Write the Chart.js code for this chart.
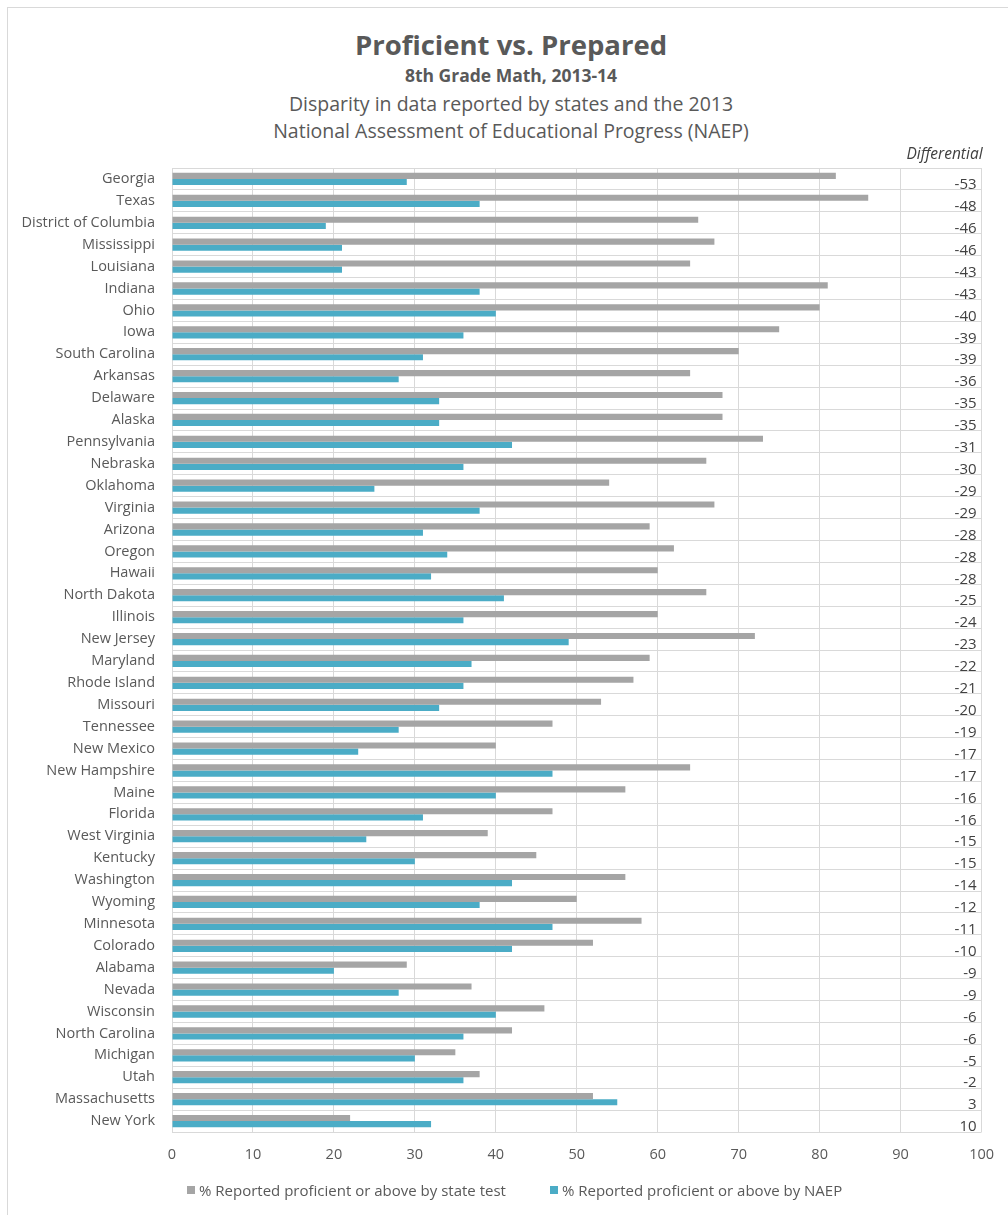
<!DOCTYPE html>
<html>
<head>
<meta charset="utf-8">
<title>Proficient vs. Prepared</title>
<script src="https://cdn.jsdelivr.net/npm/chart.js@4.4.1/dist/chart.umd.min.js"></script>
<style>
    html, body { margin: 0; padding: 0; background: #fff; overflow: hidden; }
    #wrap { position: relative; width: 1008px; height: 1215px; }
    #frame {
        position: absolute; left: 7px; top: 7px; width: 1010px; height: 1220px;
        border: 1px solid #d9d9d9; box-sizing: border-box;
    }
    .head {
        position: absolute; left: 7px; width: 1008px; text-align: center;
        color: #595959; font-family: 'Open Sans', sans-serif; white-space: nowrap;
    }
    #h1 { top: 27px; font-size: 27.5px; line-height: 36px; font-weight: 700; }
    #h2 { top: 63px; font-size: 17.5px; line-height: 24px; font-weight: 700; }
    #h3 { top: 89.5px; font-size: 19.5px; line-height: 27px; }
    #chart { position: absolute; left: 0; top: 0; }
    #legend {
        position: absolute; left: 187px; top: 1179px; height: 22px;
        display: flex; align-items: center; gap: 44px;
        font-family: 'Open Sans', sans-serif; font-size: 15px; color: #595959; white-space: nowrap;
    }
    #legend .item { display: flex; align-items: center; gap: 4px; }
    #legend .box { width: 8px; height: 8px; display: inline-block; }
</style>
</head>
<body>
<div id="wrap">
    <div id="frame"></div>
    <div class="head" id="h1">Proficient vs. Prepared</div>
    <div class="head" id="h2">8th Grade Math, 2013-14</div>
    <div class="head" id="h3">Disparity in data reported by states and the 2013<br>National Assessment of Educational Progress (NAEP)</div>
    <canvas id="chart" width="1008" height="1215"></canvas>
    <div id="legend"></div>
</div>
<script>
// Data
const states = [
    'Georgia', 'Texas', 'District of Columbia', 'Mississippi', 'Louisiana', 'Indiana',
    'Ohio', 'Iowa', 'South Carolina', 'Arkansas', 'Delaware', 'Alaska', 'Pennsylvania',
    'Nebraska', 'Oklahoma', 'Virginia', 'Arizona', 'Oregon', 'Hawaii', 'North Dakota',
    'Illinois', 'New Jersey', 'Maryland', 'Rhode Island', 'Missouri', 'Tennessee',
    'New Mexico', 'New Hampshire', 'Maine', 'Florida', 'West Virginia', 'Kentucky',
    'Washington', 'Wyoming', 'Minnesota', 'Colorado', 'Alabama', 'Nevada', 'Wisconsin',
    'North Carolina', 'Michigan', 'Utah', 'Massachusetts', 'New York'
];

// % reported proficient or above by state test
const stateTest = [
    82, 86, 65, 67, 64, 81, 80, 75, 70, 64, 68, 68, 73,
    66, 54, 67, 59, 62, 60, 66, 60, 72, 59, 57, 53, 47,
    40, 64, 56, 47, 39, 45, 56, 50, 58, 52, 29, 37, 46,
    42, 35, 38, 52, 22
];

// % reported proficient or above by NAEP
const naep = [
    29, 38, 19, 21, 21, 38, 40, 36, 31, 28, 33, 33, 42,
    36, 25, 38, 31, 34, 32, 41, 36, 49, 37, 36, 33, 28,
    23, 47, 40, 31, 24, 30, 42, 38, 47, 42, 20, 28, 40,
    36, 30, 36, 55, 32
];

const differential = [
    -53, -48, -46, -46, -43, -43, -40, -39, -39, -36, -35, -35, -31,
    -30, -29, -29, -28, -28, -28, -25, -24, -23, -22, -21, -20, -19,
    -17, -17, -16, -16, -15, -15, -14, -12, -11, -10, -9, -9, -6,
    -6, -5, -2, 3, 10
];

const xMin = 0;
const xMax = 100;
const xStep = 10;

const textColor = '#595959';
const gridColor = '#d9d9d9';
const fontFamily = "'Open Sans', sans-serif";

// Draws the "Differential" column in the right part of the plot
const differentialColumn = {
    id: 'differentialColumn',
    afterDatasetsDraw(chart) {
        const ctx = chart.ctx;
        const x = chart.scales.x;
        const y = chart.scales.y;
        const right = x.getPixelForValue(xMax);
        ctx.save();
        ctx.fillStyle = '#404040';
        ctx.textAlign = 'right';
        ctx.textBaseline = 'middle';
        ctx.font = 'italic 15.5px ' + fontFamily;
        ctx.fillText('Differential', right + 1, chart.chartArea.top - 13);
        ctx.font = '15px ' + fontFamily;
        differential.forEach((d, i) => {
            ctx.fillText(String(d), right - 5, y.getPixelForValue(i) + 6);
        });
        ctx.restore();
    }
};

const chart = new Chart(document.getElementById('chart'), {
    type: 'bar',
    data: {
        labels: states,
        datasets: [
            {
                label: '% Reported proficient or above by state test',
                data: stateTest,
                backgroundColor: '#a5a5a5',
                categoryPercentage: 0.56,
                barPercentage: 1.0
            },
            {
                label: '% Reported proficient or above by NAEP',
                data: naep,
                backgroundColor: '#4bacc6',
                categoryPercentage: 0.56,
                barPercentage: 1.0
            }
        ]
    },
    options: {
        indexAxis: 'y',
        responsive: false,
        animation: false,
        layout: {
            padding: { top: 168, left: 0, right: 23, bottom: 43 }
        },
        scales: {
            x: {
                min: xMin,
                max: xMax,
                grid: { color: gridColor, drawTicks: false },
                border: { display: false },
                ticks: {
                    stepSize: xStep,
                    autoSkip: false,
                    maxRotation: 0,
                    padding: 14,
                    color: textColor,
                    font: { family: fontFamily, size: 14.5 }
                },
                afterFit: (scale) => { scale.height = 40; }
            },
            y: {
                grid: { color: gridColor, drawTicks: false, offset: true },
                border: { display: false },
                ticks: {
                    autoSkip: false,
                    padding: 17,
                    color: textColor,
                    font: { family: fontFamily, size: 14.5 }
                },
                afterFit: (scale) => { scale.width = 172; }
            }
        },
        plugins: {
            legend: { display: false },
            tooltip: { enabled: false }
        }
    },
    plugins: [differentialColumn]
});

// Simple HTML legend built from the datasets
const legendEl = document.getElementById('legend');
chart.data.datasets.forEach((ds) => {
    const item = document.createElement('span');
    item.className = 'item';
    item.innerHTML = `<span class="box" style="background:${ds.backgroundColor}"></span><span>${ds.label}</span>`;
    legendEl.appendChild(item);
});
</script>
</body>
</html>
